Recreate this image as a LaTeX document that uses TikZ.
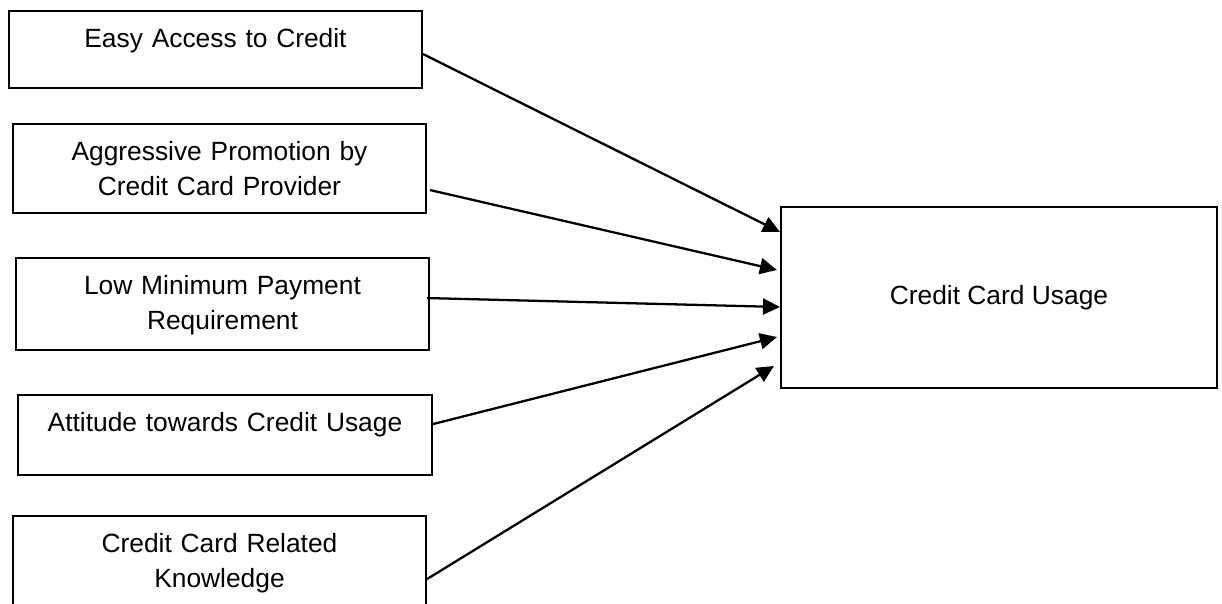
\documentclass[tikz,border=0pt]{standalone}
\usepackage{fontspec}
\setmainfont{Liberation Sans}
\usepackage{tikz}
\usetikzlibrary{arrows.meta}
\usetikzlibrary{calc,positioning}
\tikzset{%
  >={Triangle[width=3.2mm,length=3.4mm]},
  % Specifications for style of nodes:
  factor/.style = {rectangle, draw=black, line width=1.2pt,
    inner sep=0pt,
    text width=8.26cm,
    text height=0.72cm,
    align=center, font=\fontsize{15}{19.9}\selectfont},
  outcome/.style = {rectangle, draw=black, line width=1.2pt,
    minimum width=8.72cm,
    minimum height=3.62cm,
    align=center, font=\fontsize{15}{19.9}\selectfont},
  link/.style = {->, line width=1.3pt},
}

\begin{document}
\begin{tikzpicture}
        \useasboundingbox (0,0) rectangle (24.44,-12.06);
        % Specification of nodes (position, etc.)
        \node(Easy)[factor,anchor=north,text depth=0.82cm] at (4.31,-0.2){Easy Access to Credit};
        \node(Promo)[factor,anchor=north,text depth=1.06cm] at (4.39,-2.46){Aggressive Promotion by \\ Credit Card Provider};
        \node(LowPay)[factor,anchor=north,text depth=1.12cm] at (4.45,-5.14){Low Minimum Payment \\ Requirement};
        \node(Attitude)[factor,anchor=north,text width=8.28cm,text depth=0.88cm] at (4.5,-7.88){Attitude towards Credit Usage};
        \node(Knowl)[factor,anchor=north,text depth=1.12cm] at (4.39,-10.3){Credit Card Related \\ Knowledge};
        \node(Usage)[outcome] at (19.98,-5.95){Credit Card Usage};
        \draw[link]([yshift=-0.09cm]Easy.east) -- ([yshift=1.31cm]Usage.west);
        \draw[link]([xshift=0.06cm,yshift=-0.43cm]Promo.east) -- ([xshift=-0.06cm,yshift=0.55cm]Usage.west);
        \draw[link]([xshift=-0.06cm,yshift=0.12cm]LowPay.east) -- ([yshift=-0.19cm]Usage.west);
        \draw[link]([yshift=0.22cm]Attitude.east) -- ([xshift=-0.06cm,yshift=-0.79cm]Usage.west);
        \draw[link]([yshift=-0.34cm]Knowl.east) -- ([xshift=-0.12cm,yshift=-1.37cm]Usage.west);
    \end{tikzpicture}
\end{document}
